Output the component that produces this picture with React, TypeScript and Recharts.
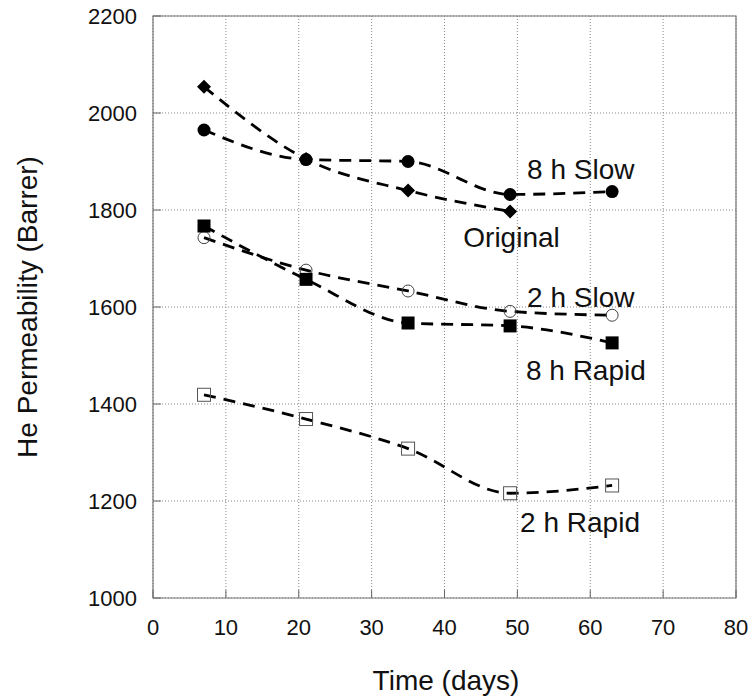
import React from "react";
import {
  LineChart,
  Line,
  XAxis,
  YAxis,
  CartesianGrid,
  ReferenceArea,
  ReferenceDot,
  Label,
} from "recharts";

// data -----------------------------------------------------------------------
const days = [7, 21, 35, 49, 63];
const slow8h = [1965, 1904, 1900, 1832, 1838];
const original = [2054, 1905, 1840, 1797, null];
const slow2h = [1743, 1676, 1633, 1591, 1583];
const rapid8h = [1767, 1657, 1567, 1561, 1526];
const rapid2h = [1419, 1369, 1308, 1216, 1232];

const xTicks = [0, 10, 20, 30, 40, 50, 60, 70, 80];
const yTicks = [1000, 1200, 1400, 1600, 1800, 2000, 2200];

// series annotations placed in data space
const noteText = ["8 h Slow", "Original", "2 h Slow", "8 h Rapid", "2 h Rapid"];
const noteX = [58.7, 49.2, 58.7, 59.4, 58.6];
const noteY = [1884, 1744, 1620, 1469, 1157];

const rows = days.map((d, i) => ({
  day: d,
  slow8h: slow8h[i],
  original: original[i],
  slow2h: slow2h[i],
  rapid8h: rapid8h[i],
  rapid2h: rapid2h[i],
}));

// layout ---------------------------------------------------------------------
const W = 754;
const H = 699;
const PLOT_LEFT = 153;
const PLOT_BOTTOM = 598;
const FONT = "'Liberation Sans', Arial, sans-serif";
const DASH = "12 8";

const XTick = (p: any) => (
  <g>
    <line x1={p.x} x2={p.x} y1={PLOT_BOTTOM} y2={PLOT_BOTTOM - 8} stroke="#666" />
    <text x={p.x} y={635} textAnchor="middle" fontSize={22} fill="#111" fontFamily={FONT}>
      {p.payload.value}
    </text>
  </g>
);

const YTick = (p: any) => (
  <g>
    <line x1={PLOT_LEFT} x2={PLOT_LEFT + 8} y1={p.y} y2={p.y} stroke="#666" />
    <text x={137} y={p.y} dy="0.36em" textAnchor="end" fontSize={22} fill="#111" fontFamily={FONT}>
      {p.payload.value}
    </text>
  </g>
);

// markers
const FilledCircle = (p: any) =>
  p.cy == null ? <g key={p.index} /> : <circle key={p.index} cx={p.cx} cy={p.cy} r={6.5} fill="#000" />;
const OpenCircle = (p: any) =>
  p.cy == null ? <g key={p.index} /> : <circle key={p.index} cx={p.cx} cy={p.cy} r={6} fill="none" stroke="#444" strokeWidth={1} />;
const Diamond = (p: any) =>
  p.cy == null ? (
    <g key={p.index} />
  ) : (
    <polygon
      key={p.index}
      points={`${p.cx},${p.cy - 7} ${p.cx + 7},${p.cy} ${p.cx},${p.cy + 7} ${p.cx - 7},${p.cy}`}
      fill="#000"
    />
  );
const FilledSquare = (p: any) =>
  p.cy == null ? <g key={p.index} /> : <rect key={p.index} x={p.cx - 6.5} y={p.cy - 6.5} width={13} height={13} fill="#000" />;
const OpenSquare = (p: any) =>
  p.cy == null ? (
    <g key={p.index} />
  ) : (
    <rect key={p.index} x={p.cx - 6.5} y={p.cy - 6.5} width={13} height={13} fill="none" stroke="#555" strokeWidth={1} />
  );

export default function App() {
  return (
    <div style={{ position: "absolute", left: 0, top: 0, width: W, height: H, fontFamily: FONT, background: "#fff" }}>
      <LineChart width={W} height={H} data={rows} margin={{ top: 16, right: 18, bottom: 41, left: 53 }}>
        <CartesianGrid stroke="#888" strokeDasharray="1 2" />
        <XAxis
          dataKey="day"
          type="number"
          domain={[0, 80]}
          ticks={xTicks}
          height={60}
          tickLine={false}
          axisLine={false}
          tick={XTick}
          interval={0}
        >
          <Label
            content={() => (
              <text x={446} y={690} textAnchor="middle" fontSize={28} fill="#111" fontFamily={FONT}>
                Time (days)
              </text>
            )}
          />
        </XAxis>
        <YAxis
          type="number"
          domain={[1000, 2200]}
          ticks={yTicks}
          width={100}
          tickLine={false}
          axisLine={false}
          tick={YTick}
          interval={0}
        >
          <Label
            content={() => (
              <text
                x={27}
                y={307}
                textAnchor="middle"
                dominantBaseline="central"
                transform="rotate(-90 27 307)"
                fontSize={28}
                fill="#111"
                fontFamily={FONT}
              >
                He Permeability (Barrer)
              </text>
            )}
          />
        </YAxis>
        <ReferenceArea x1={0} x2={80} y1={1000} y2={2200} fill="none" stroke="#777" strokeWidth={1.2} />

        <Line dataKey="original" type="monotone" stroke="#000" strokeWidth={2.8} strokeDasharray={DASH} dot={Diamond} isAnimationActive={false} />
        <Line dataKey="slow8h" type="monotone" stroke="#000" strokeWidth={2.8} strokeDasharray={DASH} dot={FilledCircle} isAnimationActive={false} />
        <Line dataKey="slow2h" type="monotone" stroke="#000" strokeWidth={2.8} strokeDasharray={DASH} dot={OpenCircle} isAnimationActive={false} />
        <Line dataKey="rapid8h" type="monotone" stroke="#000" strokeWidth={2.8} strokeDasharray={DASH} dot={FilledSquare} isAnimationActive={false} />
        <Line dataKey="rapid2h" type="monotone" stroke="#000" strokeWidth={2.8} strokeDasharray={DASH} dot={OpenSquare} isAnimationActive={false} />

        {noteText.map((t, i) => (
          <ReferenceDot
            key={t}
            x={noteX[i]}
            y={noteY[i]}
            r={0}
            fill="none"
            stroke="none"
            label={{ value: t, position: "center", fontSize: 28, fill: "#111", fontFamily: FONT }}
          />
        ))}
      </LineChart>
    </div>
  );
}
